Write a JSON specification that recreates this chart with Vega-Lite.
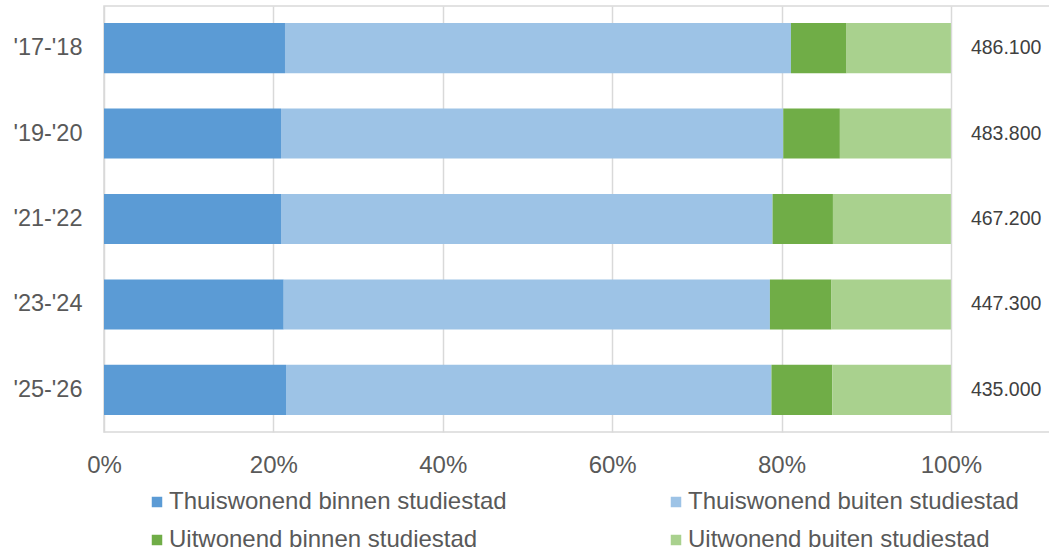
{
  "$schema": "https://vega.github.io/schema/vega-lite/v6.json",
  "autosize": {"type": "none"},
  "padding": {"left": 104, "top": 6, "right": 0, "bottom": 119},
  "width": 946,
  "height": 426,
  "config": {
    "font": "Liberation Sans",
    "view": {"stroke": "#d9d9d9", "strokeWidth": 1.5},
    "axis": {"labelColor": "#595959", "labelFont": "Liberation Sans"}
  },
  "datasets": {
    "segs": [
      {"jaar": "'17-'18", "cat": "Thuiswonend binnen studiestad", "volgorde": 1, "pct": 21.37},
      {"jaar": "'17-'18", "cat": "Thuiswonend buiten studiestad", "volgorde": 2, "pct": 59.74},
      {"jaar": "'17-'18", "cat": "Uitwonend binnen studiestad", "volgorde": 3, "pct": 6.57},
      {"jaar": "'17-'18", "cat": "Uitwonend buiten studiestad", "volgorde": 4, "pct": 12.32},
      {"jaar": "'19-'20", "cat": "Thuiswonend binnen studiestad", "volgorde": 1, "pct": 20.90},
      {"jaar": "'19-'20", "cat": "Thuiswonend buiten studiestad", "volgorde": 2, "pct": 59.30},
      {"jaar": "'19-'20", "cat": "Uitwonend binnen studiestad", "volgorde": 3, "pct": 6.69},
      {"jaar": "'19-'20", "cat": "Uitwonend buiten studiestad", "volgorde": 4, "pct": 13.11},
      {"jaar": "'21-'22", "cat": "Thuiswonend binnen studiestad", "volgorde": 1, "pct": 20.90},
      {"jaar": "'21-'22", "cat": "Thuiswonend buiten studiestad", "volgorde": 2, "pct": 58.04},
      {"jaar": "'21-'22", "cat": "Uitwonend binnen studiestad", "volgorde": 3, "pct": 7.13},
      {"jaar": "'21-'22", "cat": "Uitwonend buiten studiestad", "volgorde": 4, "pct": 13.93},
      {"jaar": "'23-'24", "cat": "Thuiswonend binnen studiestad", "volgorde": 1, "pct": 21.22},
      {"jaar": "'23-'24", "cat": "Thuiswonend buiten studiestad", "volgorde": 2, "pct": 57.41},
      {"jaar": "'23-'24", "cat": "Uitwonend binnen studiestad", "volgorde": 3, "pct": 7.27},
      {"jaar": "'23-'24", "cat": "Uitwonend buiten studiestad", "volgorde": 4, "pct": 14.10},
      {"jaar": "'25-'26", "cat": "Thuiswonend binnen studiestad", "volgorde": 1, "pct": 21.49},
      {"jaar": "'25-'26", "cat": "Thuiswonend buiten studiestad", "volgorde": 2, "pct": 57.32},
      {"jaar": "'25-'26", "cat": "Uitwonend binnen studiestad", "volgorde": 3, "pct": 7.19},
      {"jaar": "'25-'26", "cat": "Uitwonend buiten studiestad", "volgorde": 4, "pct": 14.00}
    ],
    "totals": [
      {"jaar": "'17-'18", "totaal": "486.100"},
      {"jaar": "'19-'20", "totaal": "483.800"},
      {"jaar": "'21-'22", "totaal": "467.200"},
      {"jaar": "'23-'24", "totaal": "447.300"},
      {"jaar": "'25-'26", "totaal": "435.000"}
    ]
  },
  "encoding": {
    "y": {
      "field": "jaar",
      "type": "nominal",
      "sort": ["'17-'18", "'19-'20", "'21-'22", "'23-'24", "'25-'26"],
      "scale": {"paddingInner": 0.414, "paddingOuter": 0.2},
      "axis": {
        "title": null,
        "domain": false,
        "ticks": false,
        "labelPadding": 22,
        "labelFontSize": 23.5
      }
    }
  },
  "layer": [
    {
      "data": {"name": "segs"},
      "mark": {"type": "bar"},
      "encoding": {
        "x": {
          "field": "pct",
          "type": "quantitative",
          "stack": "zero",
          "scale": {"domain": [0, 111.7], "nice": false},
          "axis": {
            "title": null,
            "values": [0, 20, 40, 60, 80, 100],
            "labelExpr": "datum.value + '%'",
            "labelFlush": false,
            "domain": false,
            "ticks": false,
            "grid": true,
            "gridColor": "#d9d9d9",
            "gridWidth": 1.5,
            "labelPadding": 21,
            "labelFontSize": 24
          }
        },
        "order": {"field": "volgorde", "type": "quantitative"},
        "color": {
          "field": "cat",
          "type": "nominal",
          "scale": {
            "domain": ["Thuiswonend binnen studiestad", "Thuiswonend buiten studiestad", "Uitwonend binnen studiestad", "Uitwonend buiten studiestad"],
            "range": ["#5b9bd5", "#9dc3e6", "#70ad47", "#a9d18e"]
          },
          "legend": {
            "title": null,
            "orient": "none",
            "legendX": 41,
            "legendY": 484,
            "direction": "horizontal",
            "columns": 2,
            "columnPadding": 157,
            "rowPadding": 14,
            "symbolType": "square",
            "symbolSize": 110,
            "symbolStrokeWidth": 0,
            "labelFontSize": 24,
            "labelColor": "#595959",
            "labelFont": "Liberation Sans",
            "labelOffset": 0,
            "labelLimit": 500
          }
        }
      }
    },
    {
      "data": {"name": "totals"},
      "mark": {"type": "text", "align": "left", "baseline": "middle", "dx": 20, "fontSize": 19.5, "color": "#404040", "font": "Liberation Sans"},
      "encoding": {
        "x": {"datum": 100, "type": "quantitative"},
        "text": {"field": "totaal", "type": "nominal"}
      }
    }
  ]
}
